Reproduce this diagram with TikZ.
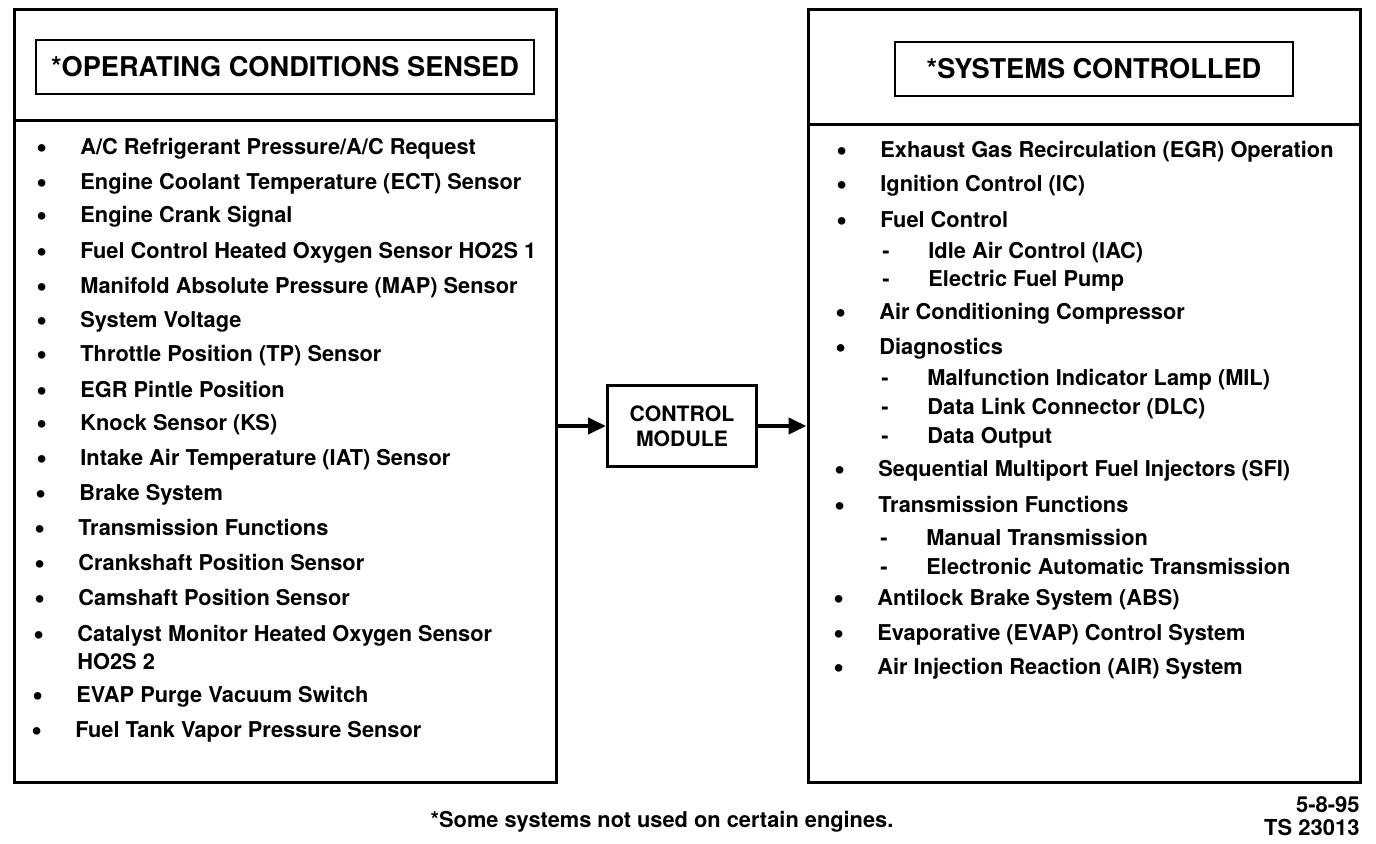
\documentclass[tikz,border=0pt]{standalone}
\usepackage{fontspec}
\setmainfont{TeX Gyre Heros}
\usetikzlibrary{arrows.meta}
\newcommand{\blt}{\makebox[22pt][l]{\raisebox{-1.2pt}{\scalebox{1.4}{\textbullet}}}}
\newcommand{\dsh}{\makebox[23pt][l]{-}}

\begin{document}
\begin{tikzpicture}[x=0.5pt, y=-0.5pt, every node/.style={font=\bfseries\fontsize{10.9}{14}\selectfont}, >={Triangle[length=9pt, width=8pt]}, panel/.style={draw, line width=1.5pt, minimum width=271pt, minimum height=386pt, inner sep=0pt}, hdbox/.style={draw, line width=1.3pt, minimum height=27pt, font=\bfseries\fontsize{13.6}{16}\selectfont}, item/.style={anchor=west, inner sep=0pt, align=left}]
	\useasboundingbox (0,0) rectangle (1376,844);
	% the two panels
	\node[panel] (sensed) at (285,396) {};
	\node[panel, minimum width=276pt] (controlled) at (1084,396) {};
	\draw[line width=1.5pt] (sensed.west |- 0,121) -- (sensed.east |- 0,121);
	\draw[line width=1.5pt] (controlled.west |- 0,125) -- (controlled.east |- 0,125);
	\node[hdbox, minimum width=249pt] (sensedhd) at (285,67) {*OPERATING CONDITIONS SENSED};
	\node[hdbox, minimum width=199pt] (controlledhd) at (1094,69) {*SYSTEMS CONTROLLED};
	% conditions sensed
	\node[item] (s1) at (36,149) {\blt A/C Refrigerant Pressure/A/C Request};
	\node[item] (s2) at (36,184) {\blt Engine Coolant Temperature (ECT) Sensor};
	\node[item] (s3) at (36,217) {\blt Engine Crank Signal};
	\node[item] (s4) at (36,253) {\blt Fuel Control Heated Oxygen Sensor HO2S 1};
	\node[item] (s5) at (36,288) {\blt Manifold Absolute Pressure (MAP) Sensor};
	\node[item] (s6) at (36,322) {\blt System Voltage};
	\node[item] (s7) at (36,356) {\blt Throttle Position (TP) Sensor};
	\node[item] (s8) at (36,391) {\blt EGR Pintle Position};
	\node[item] (s9) at (36,425) {\blt Knock Sensor (KS)};
	\node[item] (s10) at (36,460) {\blt Intake Air Temperature (IAT) Sensor};
	\node[item] (s11) at (35,495) {\blt Brake System};
	\node[item] (s12) at (34,529) {\blt Transmission Functions};
	\node[item] (s13) at (34,564) {\blt Crankshaft Position Sensor};
	\node[item] (s14) at (34,599) {\blt Camshaft Position Sensor};
	\node[item] (s15) at (33,648) {\blt Catalyst Monitor Heated Oxygen Sensor\\\hspace*{22pt}HO2S 2};
	\node[item] (s16) at (32,697) {\blt EVAP Purge Vacuum Switch};
	\node[item] (s17) at (31,732) {\blt Fuel Tank Vapor Pressure Sensor};
	% systems controlled
	\node[item] (c1) at (836,152) {\blt Exhaust Gas Recirculation (EGR) Operation};
	\node[item] (c2) at (836,186) {\blt Ignition Control (IC)};
	\node[item] (c3) at (836,221) {\blt Fuel Control};
	\node[item] (c3a) at (882,253) {\dsh Idle Air Control (IAC)};
	\node[item] (c3b) at (882,281) {\dsh Electric Fuel Pump};
	\node[item] (c4) at (835,314) {\blt Air Conditioning Compressor};
	\node[item] (c5) at (835,349) {\blt Diagnostics};
	\node[item] (c5a) at (881,380) {\dsh Malfunction Indicator Lamp (MIL)};
	\node[item] (c5b) at (881,409) {\dsh Data Link Connector (DLC)};
	\node[item] (c5c) at (881,438) {\dsh Data Output};
	\node[item] (c6) at (834,471) {\blt Sequential Multiport Fuel Injectors (SFI)};
	\node[item] (c7) at (834,506) {\blt Transmission Functions};
	\node[item] (c7a) at (880,537) {\dsh Manual Transmission};
	\node[item] (c7b) at (880,566) {\dsh Electronic Automatic Transmission};
	\node[item] (c8) at (833,600) {\blt Antilock Brake System (ABS)};
	\node[item] (c9) at (833,635) {\blt Evaporative (EVAP) Control System};
	\node[item] (c10) at (833,669) {\blt Air Injection Reaction (AIR) System};
	% control module in the middle
	\node[draw, line width=1.5pt, minimum width=74.5pt, minimum height=40.5pt, align=center, font=\bfseries\fontsize{10.6}{12.5}\selectfont] (ecm) at (682,426) {CONTROL\\MODULE};
	\draw[->, line width=2pt] (sensed.east |- ecm.west) -- (ecm.west);
	\draw[->, line width=2pt] (ecm.east) -- (ecm.east -| controlled.west);
	% footnote and stamp
	\node (note) at (662,822) {*Some systems not used on certain engines.};
	\node[anchor=east, align=right, inner sep=0pt, font=\bfseries\fontsize{11}{11.5}\selectfont] (stamp) at (1360,816) {5-8-95\\TS 23013};
\end{tikzpicture}
\end{document}
